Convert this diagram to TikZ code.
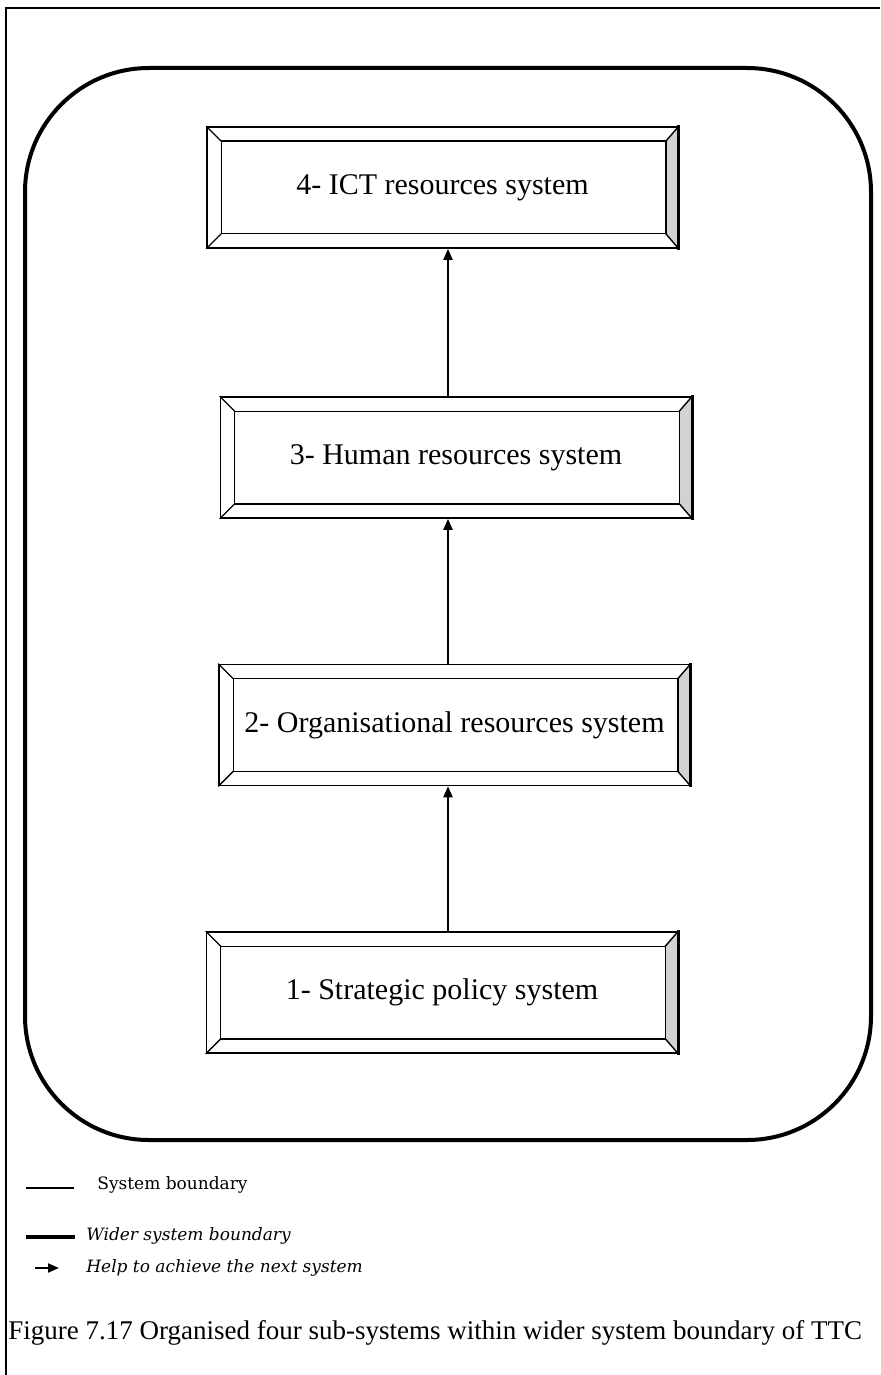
\documentclass[tikz,border=0pt]{standalone}
\usepackage{fontspec}
\setmainfont{Liberation Serif}
\newfontfamily\legendfont{DejaVu Serif}
\usetikzlibrary{arrows.meta}

% picture units: one unit = 0.5pt, y grows downward
\tikzset{
  x=0.5pt, y=-0.5pt,
  frameline/.style={line width=0.75pt},
  wider/.style={draw, line width=2pt, rounded corners=62pt},
  subsys/.style={draw, line width=0.8pt, minimum width=235.5pt, minimum height=60.5pt,
                 inner sep=0pt, font=\fontsize{15}{18}\selectfont},
  bevelline/.style={line width=0.7pt},
  helps/.style={line width=1pt, -{Triangle[length=5.5pt,width=4.5pt]}},
  legendtext/.style={font=\legendfont\fontsize{8.5}{10}\selectfont, anchor=west, inner sep=0pt},
}

% bevel of a framed sub-system box: inner panel, corner mitres, shaded right side
\newcommand\bevelbox[1]{%
  \coordinate (#1-inw) at ([xshift=7.5pt,yshift=-7.5pt]#1.north west);
  \coordinate (#1-ine) at ([xshift=-6.5pt,yshift=-7.5pt]#1.north east);
  \coordinate (#1-ise) at ([xshift=-6.5pt,yshift=7.5pt]#1.south east);
  \coordinate (#1-isw) at ([xshift=7.5pt,yshift=7.5pt]#1.south west);
  \fill[gray!35] (#1.north east) -- (#1-ine) -- (#1-ise) -- (#1.south east) -- cycle;
  \draw[bevelline] (#1-inw) -- (#1-ine) -- (#1-ise) -- (#1-isw) -- cycle;
  \draw[bevelline] (#1.north west) -- (#1-inw);
  \draw[bevelline] (#1.north east) -- (#1-ine);
  \draw[bevelline] (#1.south east) -- (#1-ise);
  \draw[bevelline] (#1.south west) -- (#1-isw);
  \draw[line width=1.6pt] ([yshift=0.4pt]#1.north east) -- ([yshift=-0.4pt]#1.south east);
}

\begin{document}
\begin{tikzpicture}
\useasboundingbox (0,0) rectangle (880,1375);

% page frame (top and left edges)
\draw[frameline] (880,8) -- (6,8) -- (6,1375);

% wider system boundary
\node[wider, minimum width=423pt, minimum height=536pt] (wsb) at (448,604) {};

% the four sub-systems
\node[subsys] (s4) at (442.5,187.5) {4- ICT resources system};
\node[subsys] (s3) at (456,457.5) {3- Human resources system};
\node[subsys] (s2) at (454.5,725) {2- Organisational resources system};
\node[subsys] (s1) at (442,992.5) {1- Strategic policy system};
\bevelbox{s4}
\bevelbox{s3}
\bevelbox{s2}
\bevelbox{s1}

% each sub-system helps to achieve the next one
\coordinate (ax) at (448,0);
\draw[helps] (s1.north -| ax) -- (s2.south -| ax);
\draw[helps] (s2.north -| ax) -- (s3.south -| ax);
\draw[helps] (s3.north -| ax) -- (s4.south -| ax);

% legend
\coordinate (l1a) at (26,1188); \coordinate (l1b) at (74,1188);
\coordinate (l2a) at (26,1237); \coordinate (l2b) at (75,1237);
\coordinate (l3a) at (35,1268); \coordinate (l3b) at (59,1268);
\draw[line width=0.6pt] (l1a) -- (l1b);
\draw[line width=2pt] (l2a) -- (l2b);
\draw[helps] (l3a) -- (l3b);
\node[legendtext] (t1) at (97,1185) {System boundary};
\node[legendtext] (t2) at (86,1236) {\itshape Wider system boundary};
\node[legendtext] (t3) at (86,1268) {\itshape Help to achieve the next system};

% caption
\node[anchor=west, inner sep=0pt, font=\fontsize{13.5}{16}\selectfont] (cap) at (8,1333)
  {Figure 7.17 Organised four sub-systems within wider system boundary of TTC};
\end{tikzpicture}
\end{document}
